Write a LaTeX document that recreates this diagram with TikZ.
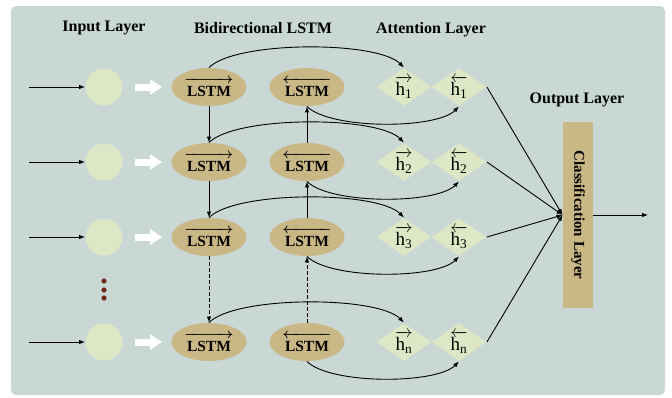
\documentclass[tikz,border=0pt]{standalone}
\usepackage{amsmath}
\usepackage{fontspec}
\setmainfont{Liberation Serif}
\usetikzlibrary{shapes.geometric,arrows.meta}
\definecolor{panel}{RGB}{201,215,213}
\definecolor{cell}{RGB}{201,183,133}
\definecolor{unit}{RGB}{221,230,197}
\definecolor{dots}{RGB}{110,45,25}
\newcommand{\cellname}{\text{\,\rule{0pt}{13pt}LSTM\,}}
\tikzset{
  lstm/.style={ellipse,fill=cell,minimum width=75pt,minimum height=38pt,inner sep=0pt,font=\fontsize{15.5}{17}\selectfont\bfseries\boldmath},
  att/.style={diamond,fill=unit,minimum width=55pt,minimum height=38pt,inner sep=0pt},
  hlabel/.style={font=\fontsize{19}{21}\selectfont},
  title/.style={font=\fontsize{16}{18}\selectfont\bfseries},
  feed/.style={white,line width=7pt,-{Triangle[length=12pt,width=15pt]},shorten <=12pt,shorten >=9pt}
}
\begin{document}
\begin{tikzpicture}[x=1pt,y=1pt,>={Latex[length=6pt,width=4.5pt]},line width=0.9pt]
\useasboundingbox (0,0) rectangle (672,-397);
\fill[panel,rounded corners=5pt] (11,-6) rectangle (665,-395);
\node[title] (tin) at (104,-28) {Input Layer};
\node[title] (tbi) at (263,-28) {Bidirectional LSTM};
\node[title] (tatt) at (431,-30) {Attention Layer};
\node[title] (tout) at (577,-100) {Output Layer};
\node[fill=cell,minimum width=30pt,minimum height=186pt,inner sep=0pt,font=\fontsize{15}{17}\selectfont\bfseries] (cls) at (578,-215) {\rotatebox{-90}{Classification Layer}};
\coordinate (res) at (648,-215);
\draw[->] (cls) -- (res);
\foreach \i/\y/\s in {1/87/1,2/162/2,3/237/3,4/342/n}{
  \coordinate (s\i) at (29,-\y);
  \node[circle,fill=unit,minimum size=37pt] (in\i) at (104,-\y) {};
  \node[lstm] (f\i) at (209,-\y) {$\overrightarrow{\cellname}$};
  \node[lstm] (b\i) at (307,-\y) {$\overleftarrow{\cellname}$};
  \node[att,label={[hlabel]center:$\overrightarrow{\text{h}_{\text{\s}}}$}] (fh\i) at (404,-\y) {};
  \node[att,label={[hlabel]center:$\overleftarrow{\text{h}_{\text{\s}}}$}] (bh\i) at (459,-\y) {};
  \draw[->] (s\i) -- (in\i);
  \draw[feed] (in\i) -- (f\i);
  \draw[->] (f\i.north) to[out=45,in=135,looseness=0.5] (fh\i.north);
  \draw[->] (b\i.south) to[out=-45,in=-135,looseness=0.55] (bh\i.south);
  \draw[->] (bh\i.east) -- (cls.west);
}
\draw[->] (f1) -- (f2);
\draw[->] (f2) -- (f3);
\draw[->,dash pattern=on 4pt off 2pt] (f3) -- (f4);
\draw[->] (b2) -- (b1);
\draw[->] (b3) -- (b2);
\draw[->,dash pattern=on 4pt off 2pt] (b4) -- (b3);
\foreach \d in {281,290,298}
  \fill[dots] (104,-\d) circle (2.6);
\end{tikzpicture}
\end{document}
